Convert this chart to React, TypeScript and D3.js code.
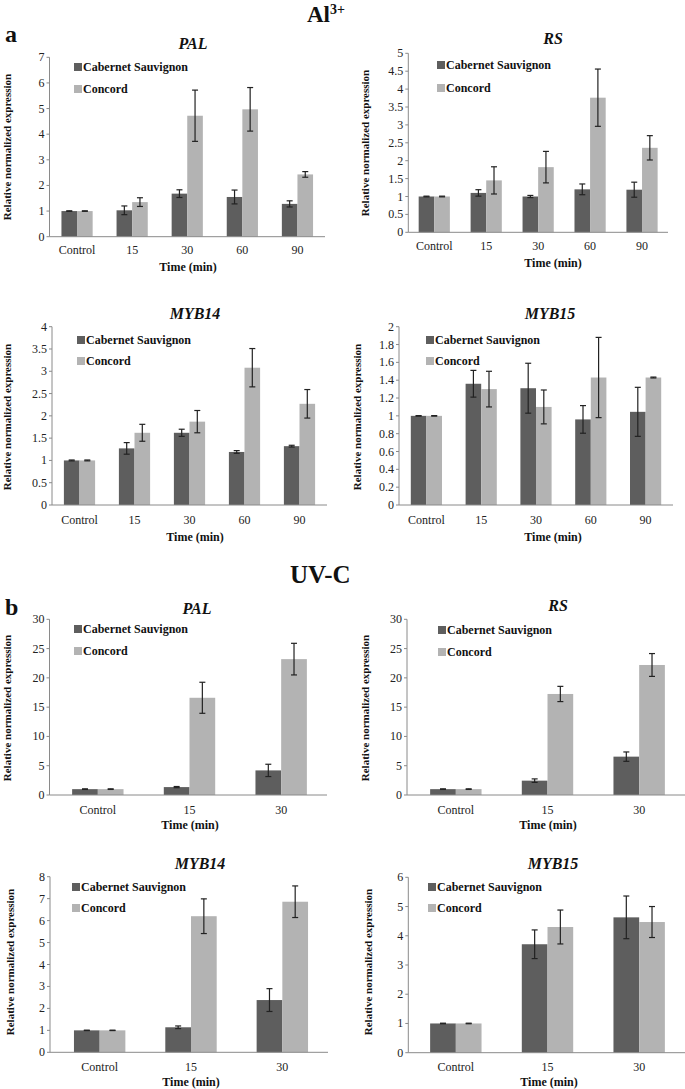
import React from "react";
import * as d3 from "d3";

// ---------- data ----------
const alCategories = ["Control", "15", "30", "60", "90"];
const uvCategories = ["Control", "15", "30"];
const seriesNames = ["Cabernet Sauvignon", "Concord"];

// Al3+ PAL
const alPalCS = [1.0, 1.03, 1.68, 1.55, 1.28];
const alPalCSErr = [0.01, 0.17, 0.15, 0.27, 0.12];
const alPalCon = [1.0, 1.35, 4.72, 4.97, 2.43];
const alPalConErr = [0.01, 0.17, 1.0, 0.85, 0.11];
// Al3+ RS
const alRsCS = [1.0, 1.1, 1.0, 1.2, 1.19];
const alRsCSErr = [0.01, 0.09, 0.03, 0.15, 0.21];
const alRsCon = [1.0, 1.45, 1.82, 3.76, 2.36];
const alRsConErr = [0.01, 0.38, 0.44, 0.8, 0.34];
// Al3+ MYB14
const alMyb14CS = [1.0, 1.27, 1.62, 1.19, 1.32];
const alMyb14CSErr = [0.01, 0.13, 0.08, 0.03, 0.02];
const alMyb14Con = [1.0, 1.62, 1.87, 3.08, 2.27];
const alMyb14ConErr = [0.01, 0.19, 0.25, 0.43, 0.32];
// Al3+ MYB15
const alMyb15CS = [1.0, 1.36, 1.31, 0.96, 1.045];
const alMyb15CSErr = [0.003, 0.15, 0.28, 0.155, 0.275];
const alMyb15Con = [1.0, 1.3, 1.1, 1.43, 1.43];
const alMyb15ConErr = [0.003, 0.2, 0.19, 0.45, 0.005];
// UV-C PAL
const uvPalCS = [1.0, 1.35, 4.2];
const uvPalCSErr = [0.05, 0.1, 1.05];
const uvPalCon = [1.0, 16.6, 23.2];
const uvPalConErr = [0.05, 2.65, 2.7];
// UV-C RS
const uvRsCS = [1.0, 2.45, 6.55];
const uvRsCSErr = [0.05, 0.3, 0.8];
const uvRsCon = [1.0, 17.25, 22.2];
const uvRsConErr = [0.05, 1.3, 1.95];
// UV-C MYB14
const uvMyb14CS = [1.0, 1.14, 2.38];
const uvMyb14CSErr = [0.01, 0.06, 0.52];
const uvMyb14Con = [1.0, 6.2, 6.86];
const uvMyb14ConErr = [0.01, 0.79, 0.72];
// UV-C MYB15
const uvMyb15CS = [1.0, 3.71, 4.63];
const uvMyb15CSErr = [0.01, 0.49, 0.73];
const uvMyb15Con = [1.0, 4.3, 4.47];
const uvMyb15ConErr = [0.01, 0.58, 0.53];

// ---------- layout ----------
const DARK = "#5e5e5e";
const LIGHT = "#b3b3b3";
const AXIS = "#8a8a8a";
const FONT = "'Liberation Serif', 'Times New Roman', serif";

type Panel = {
  title: string;
  cats: string[];
  cs: number[]; csErr: number[];
  con: number[]; conErr: number[];
  axisX: number; left: number; right: number;
  yTop: number; yBot: number; max: number; step: number;
  barW: number;
  titleX: number; titleY: number;
  legX: number; legY1: number; legY2: number;
  ylX: number; ylY: number;
  catY: number; timeX: number; timeY: number;
};

const panels: Panel[] = [
  { title: "PAL", cats: alCategories, cs: alPalCS, csErr: alPalCSErr, con: alPalCon, conErr: alPalConErr,
    axisX: 49.5, left: 49.5, right: 325, yTop: 57.3, yBot: 236.7, max: 7, step: 1, barW: 15.6,
    titleX: 193, titleY: 43, legX: 74, legY1: 67, legY2: 89, ylX: 7, ylY: 147, catY: 250, timeX: 188, timeY: 267 },
  { title: "RS", cats: alCategories, cs: alRsCS, csErr: alRsCSErr, con: alRsCon, conErr: alRsConErr,
    axisX: 408.3, left: 408.3, right: 668, yTop: 53.3, yBot: 232.3, max: 5, step: 0.5, barW: 15.6,
    titleX: 553, titleY: 38, legX: 437, legY1: 65, legY2: 88, ylX: 365, ylY: 143, catY: 246, timeX: 553, timeY: 263 },
  { title: "MYB14", cats: alCategories, cs: alMyb14CS, csErr: alMyb14CSErr, con: alMyb14Con, conErr: alMyb14ConErr,
    axisX: 52, left: 52, right: 327, yTop: 326.7, yBot: 505, max: 4, step: 0.5, barW: 15.6,
    titleX: 195, titleY: 313, legX: 77, legY1: 340, legY2: 361, ylX: 7, ylY: 417, catY: 520, timeX: 195, timeY: 537 },
  { title: "MYB15", cats: alCategories, cs: alMyb15CS, csErr: alMyb15CSErr, con: alMyb15Con, conErr: alMyb15ConErr,
    axisX: 399, left: 399, right: 673, yTop: 326.7, yBot: 505, max: 2, step: 0.2, barW: 15.6,
    titleX: 550, titleY: 313, legX: 426, legY1: 340, legY2: 361, ylX: 357, ylY: 417, catY: 520, timeX: 553, timeY: 537 },
  { title: "PAL", cats: uvCategories, cs: uvPalCS, csErr: uvPalCSErr, con: uvPalCon, conErr: uvPalConErr,
    axisX: 49.5, left: 52, right: 327, yTop: 619.3, yBot: 795, max: 30, step: 5, barW: 25.7,
    titleX: 197, titleY: 608, legX: 74, legY1: 629, legY2: 651, ylX: 7, ylY: 708, catY: 810, timeX: 190, timeY: 825 },
  { title: "RS", cats: uvCategories, cs: uvRsCS, csErr: uvRsCSErr, con: uvRsCon, conErr: uvRsConErr,
    axisX: 407, left: 410, right: 685, yTop: 619.3, yBot: 795, max: 30, step: 5, barW: 25.7,
    titleX: 558, titleY: 605, legX: 438, legY1: 630, legY2: 652, ylX: 365, ylY: 708, catY: 810, timeX: 548, timeY: 825 },
  { title: "MYB14", cats: uvCategories, cs: uvMyb14CS, csErr: uvMyb14CSErr, con: uvMyb14Con, conErr: uvMyb14ConErr,
    axisX: 50, left: 54, right: 328, yTop: 876.7, yBot: 1052.3, max: 8, step: 1, barW: 25.7,
    titleX: 200, titleY: 863, legX: 72, legY1: 887, legY2: 908, ylX: 10, ylY: 962, catY: 1067, timeX: 191, timeY: 1082 },
  { title: "MYB15", cats: uvCategories, cs: uvMyb15CS, csErr: uvMyb15CSErr, con: uvMyb15Con, conErr: uvMyb15ConErr,
    axisX: 408.3, left: 410, right: 685, yTop: 877.3, yBot: 1052.7, max: 6, step: 1, barW: 25.7,
    titleX: 553, titleY: 863, legX: 428, legY1: 887, legY2: 908, ylX: 368, ylY: 962, catY: 1067, timeX: 549, timeY: 1082 },
];

function fmt(v: number) {
  return String(Number(v.toFixed(2)));
}

function ChartPanel({ p }: { p: Panel }) {
  const x0 = d3.scaleBand<string>().domain(p.cats).range([p.left, p.right]).padding(0);
  const y = d3.scaleLinear().domain([0, p.max]).range([p.yBot, p.yTop]);
  const x1 = d3.scaleBand<string>().domain(seriesNames).range([0, p.barW * 2]).padding(0);
  const ticks = d3.range(0, p.max + p.step / 2, p.step);
  const series = [
    { name: seriesNames[0], vals: p.cs, errs: p.csErr, color: DARK },
    { name: seriesNames[1], vals: p.con, errs: p.conErr, color: LIGHT },
  ];
  const capW = 3;
  return (
    <g>
      {/* bars */}
      {series.map((s) =>
        p.cats.map((c, i) => {
          const bx = (x0(c) as number) + x0.bandwidth() / 2 - p.barW + (x1(s.name) as number);
          return (
            <rect key={s.name + c} x={bx} y={y(s.vals[i])} width={x1.bandwidth()}
              height={y(0) - y(s.vals[i])} fill={s.color} />
          );
        })
      )}
      {/* error bars */}
      {series.map((s) =>
        p.cats.map((c, i) => {
          const cx = (x0(c) as number) + x0.bandwidth() / 2 - p.barW + (x1(s.name) as number) + x1.bandwidth() / 2;
          const hi = y(s.vals[i] + s.errs[i]);
          const lo = y(s.vals[i] - s.errs[i]);
          return (
            <g key={"e" + s.name + c} stroke="#222" strokeWidth={1.2}>
              <line x1={cx} x2={cx} y1={hi} y2={lo} />
              <line x1={cx - capW} x2={cx + capW} y1={hi} y2={hi} />
              <line x1={cx - capW} x2={cx + capW} y1={lo} y2={lo} />
            </g>
          );
        })
      )}
      {/* axes */}
      <line x1={p.axisX} x2={p.axisX} y1={p.yTop} y2={p.yBot} stroke={AXIS} strokeWidth={1} />
      <line x1={p.axisX} x2={p.right} y1={p.yBot} y2={p.yBot} stroke={AXIS} strokeWidth={1} />
      {ticks.map((t) => (
        <g key={"t" + t}>
          <line x1={p.axisX - 3} x2={p.axisX} y1={y(t)} y2={y(t)} stroke={AXIS} strokeWidth={1} />
          <text x={p.axisX - 5} y={y(t)} textAnchor="end" dominantBaseline="central"
            fontFamily={FONT} fontSize={12} fill="#222">{fmt(t)}</text>
        </g>
      ))}
      {p.cats.map((c) => (
        <text key={"c" + c} x={(x0(c) as number) + x0.bandwidth() / 2} y={p.catY} textAnchor="middle"
          dominantBaseline="central" fontFamily={FONT} fontSize={12} fill="#222">{c}</text>
      ))}
      <text x={p.timeX} y={p.timeY} textAnchor="middle" dominantBaseline="central"
        fontFamily={FONT} fontSize={12} fontWeight="bold" fill="#111">Time (min)</text>
      <text transform={`translate(${p.ylX},${p.ylY}) rotate(-90)`} textAnchor="middle"
        dominantBaseline="central" fontFamily={FONT} fontSize={11} fontWeight="bold" fill="#111">
        Relative normalized expression
      </text>
      <text x={p.titleX} y={p.titleY} textAnchor="middle" dominantBaseline="central"
        fontFamily={FONT} fontSize={16} fontWeight="bold" fontStyle="italic" fill="#111">{p.title}</text>
      {/* legend */}
      {series.map((s, k) => {
        const ly = k === 0 ? p.legY1 : p.legY2;
        return (
          <g key={"l" + s.name}>
            <rect x={p.legX} y={ly - 4} width={8} height={8} fill={s.color} />
            <text x={p.legX + 9} y={ly} dominantBaseline="central" fontFamily={FONT}
              fontSize={12} fontWeight="bold" fill="#111">{s.name}</text>
          </g>
        );
      })}
    </g>
  );
}

export default function App() {
  return (
    <svg width={685} height={1089} viewBox="0 0 685 1089"
      style={{ position: "absolute", left: 0, top: 0, background: "#fff" }}>
      <rect x={0} y={0} width={685} height={1089} fill="#fff" />
      <text x={307} y={22} fontFamily={FONT} fontSize={23} fontWeight="bold" fill="#111">
        Al<tspan dy={-8} fontSize={14}>3+</tspan>
      </text>
      <text x={5} y={42} fontFamily={FONT} fontSize={24} fontWeight="bold" fill="#111">a</text>
      <text x={290} y={583} fontFamily={FONT} fontSize={25} fontWeight="bold" fill="#111">UV-C</text>
      <text x={5} y={615} fontFamily={FONT} fontSize={24} fontWeight="bold" fill="#111">b</text>
      {panels.map((p, i) => (
        <ChartPanel key={i} p={p} />
      ))}
    </svg>
  );
}
